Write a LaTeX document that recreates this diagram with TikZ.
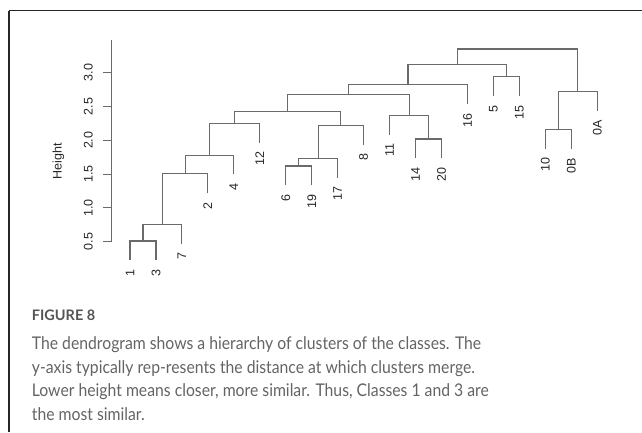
\documentclass[tikz,border=0pt]{standalone}
\usepackage{fontspec}
\setmainfont{Liberation Sans}
\newfontfamily\capfont[FakeStretch=0.9]{Lato}
\newfontfamily\figfont{Lato}
\definecolor{treegray}{HTML}{6A6A6A}
\definecolor{capgray}{HTML}{646464}
\definecolor{figgray}{HTML}{555555}
\tikzset{
  branch/.style={draw=treegray, line width=1.1pt},
  frameline/.style={draw=black!85, line width=1.3pt},
  leaflab/.style={rotate=90, anchor=east, inner sep=0pt, text=black!85,
    font=\fontsize{12.5}{14}\selectfont},
  ticklab/.style={rotate=90, inner sep=0pt, text=black!85,
    font=\fontsize{12.5}{14}\selectfont},
  capline/.style={anchor=base west, inner sep=0pt, text=capgray,
    font=\capfont\fontsize{17.5}{23.8}\selectfont}
}

\begin{document}
\begin{tikzpicture}[x=1pt, y=-1pt]
\useasboundingbox (0,0) rectangle (642,432);
% Frame (right and bottom edges run off the page)
\coordinate (fc) at (9,10.5);
\draw[frameline] (fc) -- (9,432);
\draw[frameline] (fc) -- (642,10.5);

% Dendrogram: x = leaf index, y = height
\begin{scope}[shift={(104.04pt,-275.5pt)}, x=25.96pt, y=67.6pt]
	% Axis
	\draw[branch] (0.295,0.5) -- (0.295,3.484);
	\foreach \t/\lab [count=\k] in {0.5/0.5, 1/1.0, 1.5/1.5, 2/2.0, 2.5/2.5, 3/3.0}{
		\draw[branch] (0.295,\t) -- (-0.025,\t);
		\node[ticklab] (tick\k) at (-0.606,\t) {\lab};
	}
	
	% Leaves: index / label / height of the merge above
	\foreach \i/\lab/\h in {1/1/0.51, 2/3/0.51, 3/7/0.757, 4/2/1.506, 5/4/1.78,
		6/12/2.25, 7/6/1.62, 8/19/1.62, 9/17/1.73, 10/8/2.22, 11/11/2.37,
		12/14/2.02, 13/20/2.02, 14/16/2.82, 15/5/2.94, 16/15/2.94,
		17/10/2.16, 18/0B/2.16, 19/0A/2.72}{
		\coordinate (l\lab) at (\i,\h-0.285);
		\node[leaflab] (t\lab) at ([yshift=-9pt]l\lab) {\lab};
	}
	
	% Merge points
	\coordinate (m1) at (1.5,0.51);
	\coordinate (m2) at (2.25,0.757);
	\coordinate (m3) at (3.125,1.506);
	\coordinate (m4) at (4.0625,1.78);
	\coordinate (m5) at (5.031,2.25);
	\coordinate (m6) at (7.5,1.62);
	\coordinate (m7) at (8.25,1.73);
	\coordinate (m8) at (9.125,2.22);
	\coordinate (m9) at (7.078,2.42);
	\coordinate (m10) at (12.5,2.02);
	\coordinate (m11) at (11.75,2.37);
	\coordinate (m12) at (9.414,2.68);
	\coordinate (m13) at (11.707,2.82);
	\coordinate (m14) at (15.5,2.94);
	\coordinate (m15) at (13.604,3.12);
	\coordinate (m16) at (17.5,2.16);
	\coordinate (m17) at (18.25,2.72);
	\coordinate (m18) at (15.927,3.35);
	
	% Brackets: left child / merge / right child
	\foreach \a/\m/\b in {l1/m1/l3, m1/m2/l7, m2/m3/l2, m3/m4/l4, m4/m5/l12,
		l6/m6/l19, m6/m7/l17, m7/m8/l8, m5/m9/m8, l14/m10/l20, l11/m11/m10,
		m9/m12/m11, m12/m13/l16, l5/m14/l15, m13/m15/m14, l10/m16/l0B,
		m16/m17/l0A, m15/m18/m17}{
		\draw[branch] (\a) |- (\m) -| (\b);
	}
\end{scope}

\node[ticklab] (ylab) at (58.5,161) {Height};

% Caption
\node[anchor=base west, inner sep=0pt, text=figgray,
	font=\figfont\bfseries\fontsize{14.5}{16}\selectfont] (fig) at (31.7,320.7) {FIGURE 8};
\foreach \txt [count=\k from 0] in {
	{The dendrogram shows a hierarchy of clusters of the classes. The},
	{y-axis typically rep-resents the distance at which clusters merge.},
	{Lower height means closer, more similar. Thus, Classes 1 and 3 are},
	{the most similar.}}{
	\node[capline] (cap\k) at (31.7,349.3+23.8*\k) {\txt};
}
\end{tikzpicture}
\end{document}
